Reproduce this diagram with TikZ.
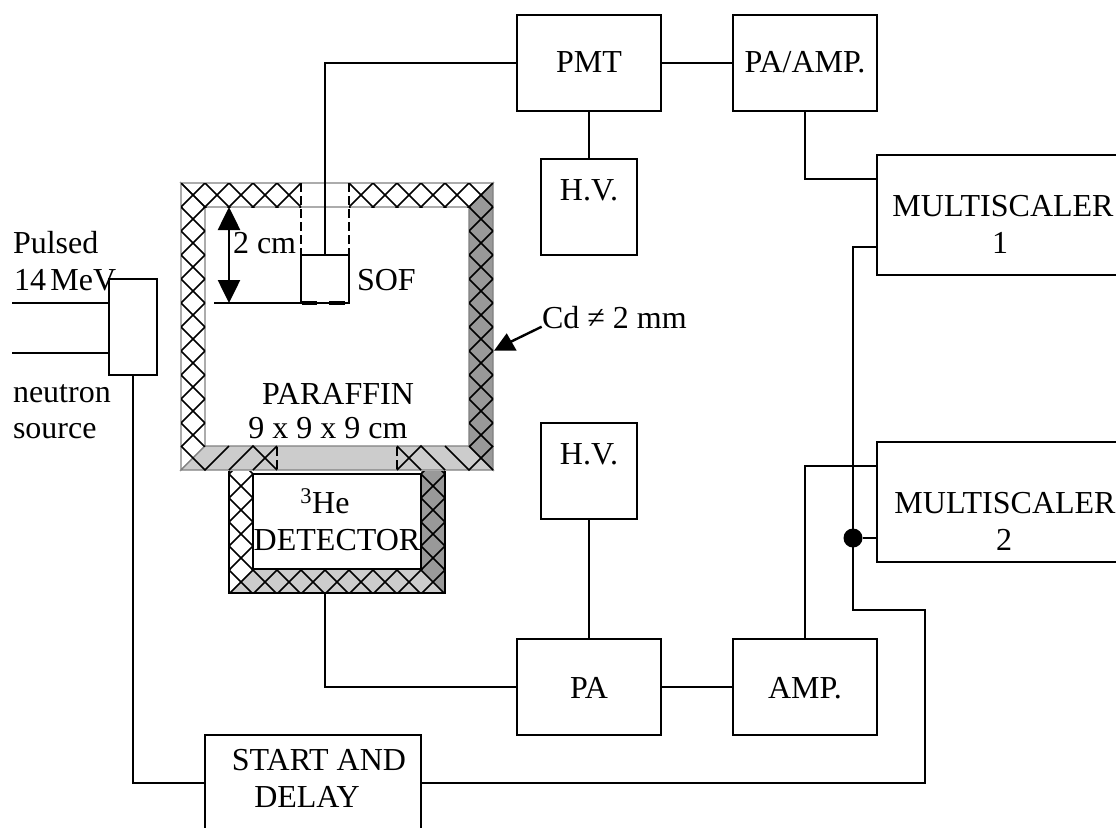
\documentclass[tikz,border=0pt]{standalone}
\usepackage{fontspec}
\setmainfont{Liberation Serif}
\usetikzlibrary{arrows.meta}
\tikzset{
  box/.style={draw=black,line width=2pt,inner sep=0pt,outer sep=0pt,rectangle},
  wire/.style={draw=black,line width=2pt,line join=miter},
  lab/.style={anchor=base,inner sep=0pt,outer sep=0pt,font=\fontsize{32}{37}\selectfont},
  labw/.style={lab,anchor=base west},
  wall/.style={draw=black!50,line width=1.4pt},
  hatch/.style={draw=black,line width=1.7pt},
  gapdash/.style={draw=black,line width=2pt,dash pattern=on 9pt off 4pt},
  twohead/.style={draw=black,line width=2.6pt,{Triangle[width=22pt,length=23pt]}-{Triangle[width=22pt,length=23pt]}},
}
% lattice of 45 degree lines through the crossing (#1,#2), pitch 24 in x and y
\newcommand{\latticeat}[2]{%
  \foreach \k in {-30,...,30}{%
    \draw[hatch] ({#1-#2+24*\k+100},100) -- ({#1-#2+24*\k+700},700);
    \draw[hatch] ({#1+#2+24*\k-100},100) -- ({#1+#2+24*\k-700},700);
  }}
\begin{document}
\begin{tikzpicture}[x=1pt,y=-1pt]
\useasboundingbox (0,0) rectangle (1116,827);
\clip (0,0) rectangle (1116,827);

% --- paraffin shielding walls
\filldraw[wall,fill=white]   (181,183)--(493,183)--(469,207)--(205,207)--cycle;
\filldraw[wall,fill=white]   (181,183)--(205,207)--(205,446)--(181,470)--cycle;
\filldraw[wall,fill=black!40](493,183)--(493,470)--(469,446)--(469,207)--cycle;
\filldraw[wall,fill=black!20](181,470)--(205,446)--(469,446)--(493,470)--cycle;
\begin{scope}
  \clip (181,183) rectangle (301,207);
  \latticeat{193}{195}
\end{scope}
\begin{scope}
  \clip (349,183) rectangle (493,207);
  \latticeat{193}{195}
\end{scope}
\begin{scope}
  \clip (181,207) rectangle (205,446);
  \latticeat{193}{195}
\end{scope}
\begin{scope}
  \clip (469,207) rectangle (493,446);
  \latticeat{193}{195}
\end{scope}
% bottom wall hatch
\draw[hatch] (181,446)--(205,470)--(229,446);
\draw[hatch] (229,470)--(253,446)--(277,470);
\draw[hatch] (253,470)--(277,446);
\draw[hatch] (397,446)--(421,470);
\draw[hatch] (397,470)--(421,446)--(445,470);
\draw[hatch] (445,446)--(469,470)--(493,446);
\draw[hatch] (469,446)--(493,470);
% gaps
\draw[gapdash] (301,183)--(301,255);
\draw[gapdash] (349,183)--(349,255);
\draw[gapdash] (277,447)--(277,473);
\draw[gapdash] (397,447)--(397,473);

% --- detector shielding walls
\fill[white]    (229,471) rectangle (445,474);
\fill[white]    (229,471)--(253,471)--(253,569)--(229,593)--cycle;
\fill[black!40] (421,471)--(445,471)--(445,593)--(421,569)--cycle;
\fill[black!20] (229,593)--(253,569)--(421,569)--(445,593)--cycle;
\begin{scope}
  \clip (229,471) rectangle (253,569);
  \latticeat{241}{486}
\end{scope}
\begin{scope}
  \clip (421,471) rectangle (445,569);
  \latticeat{241}{486}
\end{scope}
\begin{scope}
  \clip (229,569) rectangle (445,593);
  \latticeat{241}{486}
\end{scope}
\draw[wire] (229,471)--(229,593)--(445,593)--(445,471);
\node[box,minimum width=168pt,minimum height=95pt] (det) at (337,521.5) {};
\coordinate (detout) at (325,593);

% --- boxes
\node[box,minimum width=144pt,minimum height=96pt] (pmt) at (589,63) {};
\node[box,minimum width=144pt,minimum height=96pt] (paamp) at (805,63) {};
\node[box,minimum width=96pt,minimum height=96pt] (hvtop) at (589,207) {};
\node[box,minimum width=96pt,minimum height=96pt] (hvbot) at (589,471) {};
\node[box,minimum width=144pt,minimum height=96pt] (pa) at (589,687) {};
\node[box,minimum width=144pt,minimum height=96pt] (amp) at (805,687) {};
\node[box,minimum width=216pt,minimum height=96pt] (start) at (313,783) {};
\node[box,minimum width=260pt,minimum height=120pt] (ms1) at (1007,215) {};
\node[box,minimum width=260pt,minimum height=120pt] (ms2) at (1007,502) {};
\node[box,minimum width=48pt,minimum height=96pt] (src) at (133,327) {};
\node[box,minimum width=48pt,minimum height=48pt] (sof) at (325,279) {};
\node[circle,fill=black,draw=none,inner sep=0pt,outer sep=0pt,minimum size=19pt] (dot) at (853,538) {};

% --- free ends
\coordinate (inA) at (12,303);
\coordinate (inB) at (12,353);
\coordinate (srcA) at (109,303);
\coordinate (srcB) at (109,353);
\coordinate (ms1a) at (877,179);
\coordinate (ms1b) at (877,247);
\coordinate (ms2a) at (877,466);
\coordinate (ms2b) at (877,538);
\coordinate (hp) at (853,610);
\coordinate (rr) at (925,610);
\coordinate (ampout) at (805,639);
\coordinate (paampout) at (805,111);
\coordinate (base) at (214,303);
\coordinate (sofbl) at (301,303);
\coordinate (arT) at (229,207);
\coordinate (arB) at (229,303);
\coordinate (cdfrom) at (541.7,326.7);
\coordinate (cdtip) at (500,347);

% --- connectors
\draw[wire] (pmt.west) -| (sof.north);
\draw[wire] (pmt.east) -- (paamp.west);
\draw[wire] (pmt.south) -- (hvtop.north);
\draw[wire] (paampout) |- (ms1a);
\draw[wire] (hvbot.south) -- (pa.north);
\draw[wire] (pa.west) -| (detout);
\draw[wire] (pa.east) -- (amp.west);
\draw[wire] (ampout) |- (ms2a);
\draw[wire] (dot) -- (ms2b);
\draw[wire] (start.east) -| (rr) -- (hp) |- (ms1b);
\draw[wire] (src.south) |- (start.west);
\draw[wire] (inA) -- (srcA);
\draw[wire] (inB) -- (srcB);
\draw[wire] (base) -- (sofbl);
\draw[twohead] (arT) -- (arB);
\draw[line width=3.4pt] (302,303)--(317,303) (329,303)--(345,303);
\draw[draw=black,line width=2.4pt] (cdfrom) -- (cdtip);
\fill[black] (494,350.7)--(506.7,333.3)--(516.7,350.7)--cycle;

% --- labels
\node[lab] (tpmt) at (589,72) {PMT};
\node[lab] (tpaamp) at (805,72) {PA/AMP.};
\node[lab] (thv1) at (589,200) {H.V.};
\node[lab] (thv2) at (589,464) {H.V.};
\node[lab] (tpa) at (589,698) {PA};
\node[lab] (tamp) at (805,698) {AMP.};
\node[lab] (tst) at (319,770) {START AND};
\node[lab] (tdl) at (307,807) {DELAY};
\node[lab] (tm1) at (1003,216) {MULTISCALER};
\node[lab] (tm1n) at (1000,253) {1};
\node[lab] (tm2) at (1005,513) {MULTISCALER};
\node[lab] (tm2n) at (1004,550) {2};
\node[labw] (tpul) at (13,253) {Pulsed};
\node[labw] (t14) at (14,290) {\spaceskip=4.5pt\relax 14 MeV};
\node[labw] (tneu) at (13,402) {neutron};
\node[labw] (tsrc) at (13,438) {source};
\node[labw] (t2cm) at (233,253) {2 cm};
\node[labw] (tsof) at (357,290) {SOF};
\node[labw] (tcd) at (542,328) {Cd ≠ 2 mm};
\node[lab] (tpar) at (338,404) {PARAFFIN};
\node[lab] (t9) at (328,438) {9 x 9 x 9 cm};
\node[lab] (the) at (325,513) {\textsuperscript{3}He};
\node[lab] (tdet) at (337,550) {DETECTOR};
\end{tikzpicture}
\end{document}
